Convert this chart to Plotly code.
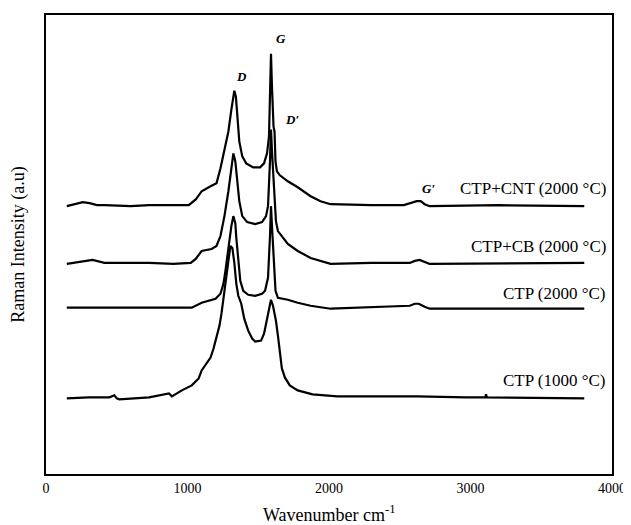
import plotly.graph_objects as go

# Wavenumber (cm-1) and intensity (a.u., offset stacked)
cnt_x = [147, 200, 260, 308, 360, 413, 600, 729, 900, 1009, 1060, 1100, 1163, 1205, 1233, 1261, 1289, 1310,
         1324, 1331, 1342, 1352, 1366, 1387, 1415, 1464, 1513, 1541, 1562, 1576, 1583, 1590, 1597, 1608,
         1615, 1622, 1632, 1653, 1709, 1779, 1870, 1940, 2011, 2300, 2529, 2585, 2620, 2648, 2676, 2711,
         3200, 3804]
cnt_y = [269, 271, 273, 272, 270, 270, 269, 270, 270, 270, 276, 284, 289, 292, 307, 324, 344, 366,
         381, 385, 379, 359, 334, 319, 312, 308, 308, 312, 322, 339, 374, 422, 389, 349,
         344, 314, 304, 300, 294, 288, 279, 274, 271, 270, 270, 272, 274, 274, 271, 269,
         270, 269]

cb_x = [147, 240, 329, 413, 600, 729, 900, 1023, 1058, 1100, 1170, 1205, 1233, 1261, 1289, 1310, 1324, 1338,
        1352, 1366, 1387, 1422, 1478, 1527, 1555, 1569, 1583, 1590, 1597, 1608, 1618, 1625, 1639, 1709,
        1779, 1870, 2011, 2300, 2571, 2606, 2641, 2676, 2711, 3804]
cb_y = [211, 213, 215, 212, 212, 212, 211, 212, 216, 224, 226, 229, 239, 259, 284, 309, 322, 314,
        294, 274, 259, 253, 251, 253, 259, 269, 314, 346, 324, 299, 279, 254, 244, 231,
        224, 217, 211, 212, 212, 214, 215, 213, 211, 212]

c2000_x = [147, 729, 1030, 1100, 1198, 1233, 1254, 1268, 1289, 1310, 1324, 1338, 1345, 1359, 1373, 1394,
           1429, 1478, 1527, 1548, 1569, 1583, 1590, 1597, 1611, 1622, 1639, 1709, 1779, 1870, 2011, 2571,
           2606, 2634, 2676, 2711, 3804]
c2000_y = [167, 167, 167, 172, 176, 181, 191, 204, 229, 249, 259, 252, 237, 212, 194, 184,
           180, 179, 181, 184, 197, 239, 269, 249, 209, 184, 177, 175, 172, 169, 166, 169,
           171, 171, 168, 166, 166]

c1000_x = [147, 300, 448, 470, 483, 500, 518, 729, 850, 869, 890, 960, 1030, 1079, 1100, 1135, 1163, 1184,
           1205, 1226, 1240, 1261, 1275, 1289, 1303, 1317, 1331, 1345, 1359, 1380, 1401, 1429, 1457, 1478,
           1520, 1541, 1555, 1576, 1590, 1604, 1625, 1639, 1653, 1667, 1688, 1723, 1779, 1884, 2060, 2620,
           2970, 3105, 3110, 3115, 3804]
c1000_y = [76, 77, 77, 78, 79, 76, 75, 77, 80, 81, 78, 84, 89, 96, 104, 111, 117, 126,
           137, 149, 161, 184, 204, 219, 229, 227, 212, 191, 179, 171, 156, 144, 136, 133,
           134, 141, 151, 166, 175, 169, 154, 139, 121, 106, 97, 89, 84, 80, 78, 78,
           77, 77, 80, 77, 76]

series_names = ["CTP+CNT (2000 °C)", "CTP+CB (2000 °C)", "CTP (2000 °C)", "CTP (1000 °C)"]
label_y = [287, 228, 181, 94]

peak_names = ["<i><b>D</b></i>", "<i><b>G</b></i>", "<i><b>D′</b></i>", "<i><b>G′</b></i>"]
peak_x = [1380, 1660, 1740, 2704]
peak_y = [399, 437, 356, 287]

xticks = [0, 1000, 2000, 3000, 4000]

FONT = "Liberation Serif, Times New Roman, serif"

fig = go.Figure()
for xs, ys, nm in [(cnt_x, cnt_y, series_names[0]), (cb_x, cb_y, series_names[1]),
                   (c2000_x, c2000_y, series_names[2]), (c1000_x, c1000_y, series_names[3])]:
    fig.add_trace(go.Scatter(x=xs, y=ys, mode="lines", name=nm,
                             line=dict(color="black", width=2.2),
                             showlegend=False))

for nm, yy in zip(series_names, label_y):
    fig.add_annotation(x=3975, y=yy, text=nm, showarrow=False, xanchor="right", yanchor="middle",
                       font=dict(family=FONT, size=17, color="black"))

for t, xx, yy in zip(peak_names, peak_x, peak_y):
    fig.add_annotation(x=xx, y=yy, text=t, showarrow=False, xanchor="center", yanchor="middle",
                       font=dict(family=FONT, size=13, color="black"))

fig.add_annotation(xref="paper", yref="paper", x=-0.049, y=0.5, text="Raman Intensity (a.u)",
                   textangle=-90, showarrow=False, xanchor="center", yanchor="middle",
                   font=dict(family=FONT, size=18, color="black"))
fig.add_annotation(xref="paper", yref="paper", x=0.5, y=-0.085, text="Wavenumber cm<sup>-1</sup>",
                   showarrow=False, xanchor="center", yanchor="middle",
                   font=dict(family=FONT, size=18, color="black"))

fig.update_layout(
    width=623, height=517,
    margin=dict(l=38, r=14, t=5, b=51),
    paper_bgcolor="white", plot_bgcolor="white",
    font=dict(family=FONT, color="black"),
)
fig.update_xaxes(range=[0, 4000], tickvals=xticks, ticktext=[str(v) for v in xticks],
                 showgrid=False, zeroline=False, showline=True, linecolor="black", linewidth=2,
                 mirror=True, ticks="", tickfont=dict(family=FONT, size=14, color="black"))
fig.update_yaxes(range=[0, 461], showticklabels=False, showgrid=False, zeroline=False,
                 showline=True, linecolor="black", linewidth=2, mirror=True, ticks="")

fig.write_html("out.html")
